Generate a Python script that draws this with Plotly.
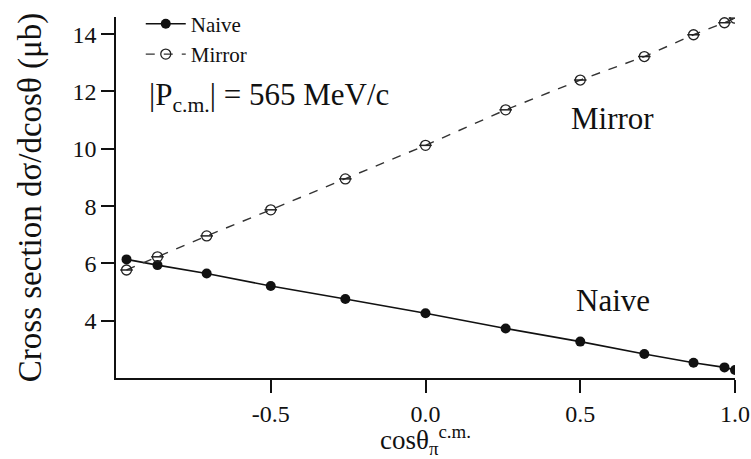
import plotly.graph_objects as go

cos_theta = [-0.966, -0.866, -0.707, -0.5, -0.259, 0.0, 0.259, 0.5, 0.707, 0.866, 0.966, 1.0]
naive = [6.14, 5.94, 5.65, 5.21, 4.76, 4.26, 3.73, 3.27, 2.84, 2.53, 2.37, 2.28]
mirror = [5.77, 6.23, 6.96, 7.87, 8.95, 10.12, 11.36, 12.40, 13.22, 13.98, 14.40, 14.56]

x_ticks = [-0.5, 0.0, 0.5, 1.0]
x_ticktext = ["-0.5", "0.0", "0.5", "1.0"]
y_ticks = [4, 6, 8, 10, 12, 14]

FONT = "'Times New Roman', Times, 'Liberation Serif', 'DejaVu Serif', serif"

fig = go.Figure()
fig.add_trace(go.Scatter(
    x=cos_theta, y=naive, mode="lines+markers", name="Naive",
    line=dict(color="#111111", width=1.6),
    marker=dict(symbol="circle", size=10, color="#111111"),
))
fig.add_trace(go.Scatter(
    x=cos_theta, y=mirror, mode="lines+markers", name="Mirror",
    line=dict(color="#333333", width=1.4, dash="dash"),
    marker=dict(symbol="circle-open", size=10, color="#222222", line=dict(width=1.3)),
))
fig.add_trace(go.Scatter(
    x=cos_theta, y=mirror, mode="markers", showlegend=False, hoverinfo="skip",
    marker=dict(symbol="line-ew", size=9, color="#222222", line=dict(width=1.5, color="#222222")),
))

fig.add_annotation(x=-0.9, y=11.8, xref="x", yref="y", xanchor="left", yanchor="middle",
                   text="|P<sub>c.m.</sub>| = 565 MeV/c", showarrow=False,
                   font=dict(family=FONT, size=31, color="#111111"))
fig.add_annotation(x=0.605, y=11.05, xref="x", yref="y", text="Mirror", showarrow=False,
                   font=dict(family=FONT, size=31, color="#111111"))
fig.add_annotation(x=0.605, y=4.72, xref="x", yref="y", text="Naive", showarrow=False,
                   font=dict(family=FONT, size=31, color="#111111"))

fig.update_layout(
    width=751, height=459,
    margin=dict(l=116, r=16, t=17, b=81, autoexpand=False),
    paper_bgcolor="white", plot_bgcolor="white",
    font=dict(family=FONT, color="#111111"),
    showlegend=True,
    legend=dict(x=0.04, y=1.037, xanchor="left", yanchor="top",
                bgcolor="rgba(0,0,0,0)", borderwidth=0,
                font=dict(family=FONT, size=21, color="#111111"),
                tracegroupgap=0, itemwidth=40),
    xaxis=dict(range=[-1.0, 1.0], tickvals=x_ticks, ticktext=x_ticktext,
               showgrid=False, zeroline=False, showline=True, linecolor="#111111", linewidth=1.5,
               ticks="outside", ticklen=13, tickwidth=1.5, tickcolor="#111111",
               tickfont=dict(family=FONT, size=24, color="#111111"),
               title=dict(text="cosθ<sub>π</sub><sup>c.m.</sup>", font=dict(family=FONT, size=27, color="#111111"),
                          standoff=4)),
    yaxis=dict(range=[2.0, 14.6], tickvals=y_ticks,
               showgrid=False, zeroline=False, showline=True, linecolor="#111111", linewidth=1.5,
               ticks="outside", ticklen=13, tickwidth=1.5, tickcolor="#111111",
               tickfont=dict(family=FONT, size=24, color="#111111"),
               title=dict(text="Cross section dσ/dcosθ (μb)", font=dict(family=FONT, size=33, color="#111111"),
                          standoff=21)),
)

fig.write_html("out.html")
